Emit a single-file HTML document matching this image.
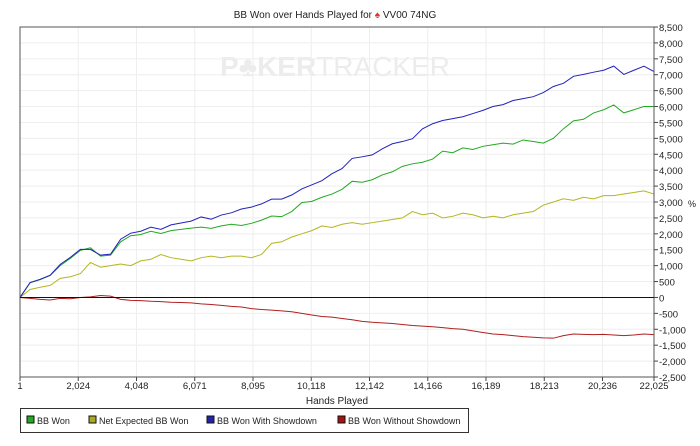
<!DOCTYPE html>
<html><head><meta charset="utf-8"><style>
body{margin:0;background:#fff;font-family:"Liberation Sans",Arial,sans-serif;}
svg text{font-family:"Liberation Sans",Arial,sans-serif;}
</style></head><body>
<svg id="c" width="700" height="441" viewBox="0 0 700 441" xmlns="http://www.w3.org/2000/svg">
<text x="335" y="18" font-size="10" text-anchor="middle" fill="#222">BB Won over Hands Played for <tspan fill="#d33">♠</tspan> VV00 74NG</text>
<text x="335" y="76" font-size="28" font-weight="bold" text-anchor="middle" fill="#ececec">P♣KER<tspan font-weight="normal">TRACKER</tspan></text>
<g id="grid"></g>
<g id="series"></g>
<g id="axes"></g>
<text x="337" y="404" font-size="10" text-anchor="middle" fill="#222">Hands Played</text>
<text x="688" y="207" font-size="9" fill="#222">%</text>
<g>
<rect x="20.5" y="408.5" width="448" height="24" fill="#fff" stroke="#333"/>
<g><rect x="27" y="416" width="7" height="7" fill="#2a2" stroke="#111"/><text x="37" y="424" font-size="9" fill="#222">BB Won</text></g>
<g><rect x="89" y="416" width="7" height="7" fill="#aa2" stroke="#111"/><text x="99" y="424" font-size="9" fill="#222">Net Expected BB Won</text></g>
<g><rect x="207" y="416" width="7" height="7" fill="#22a" stroke="#111"/><text x="217" y="424" font-size="9" fill="#222">BB Won With Showdown</text></g>
<g><rect x="338" y="416" width="7" height="7" fill="#a11" stroke="#111"/><text x="348" y="424" font-size="9" fill="#222">BB Won Without Showdown</text></g>
</g>
</svg>
<script>
const xTickLabels=["1","2,024","4,048","6,071","8,095","10,118","12,142","14,166","16,189","18,213","20,236","22,025"];
const xTickValues=[1,2024,4048,6071,8095,10118,12142,14166,16189,18213,20236,22025];
const yTickValues=[8500,8000,7500,7000,6500,6000,5500,5000,4500,4000,3500,3000,2500,2000,1500,1000,500,0,-500,-1000,-1500,-2000,-2500];
const bbWon=[0,460,560,690,1000,1230,1480,1560,1300,1330,1750,1940,1980,2080,2010,2100,2140,2180,2210,2170,2250,2300,2260,2330,2430,2560,2540,2700,2980,3020,3150,3250,3400,3650,3620,3700,3850,3950,4120,4200,4250,4350,4600,4550,4700,4650,4750,4800,4850,4820,4950,4900,4850,5000,5300,5550,5600,5800,5900,6050,5800,5900,6000,6000];
const netExpected=[0,250,320,380,600,650,750,1100,950,1000,1050,1000,1150,1200,1350,1250,1200,1150,1250,1300,1250,1300,1300,1250,1350,1700,1750,1900,2000,2100,2250,2200,2300,2350,2300,2350,2400,2450,2500,2700,2600,2650,2500,2550,2650,2600,2500,2550,2500,2600,2650,2700,2900,3000,3100,3050,3150,3100,3200,3200,3250,3300,3350,3250];
const withShowdown=[0,470,570,700,1040,1260,1510,1510,1330,1360,1830,2020,2080,2210,2140,2280,2340,2400,2530,2460,2590,2660,2780,2840,2940,3090,3090,3220,3410,3540,3670,3890,4050,4370,4420,4480,4670,4830,4900,4990,5300,5460,5560,5620,5680,5780,5880,6000,6060,6190,6250,6310,6440,6630,6730,6950,7010,7080,7140,7270,7010,7140,7270,7100];
const withoutShowdown=[0,-30,-60,-80,-30,-40,0,20,60,40,-60,-90,-100,-120,-130,-150,-160,-170,-200,-220,-250,-280,-300,-350,-380,-400,-420,-450,-500,-550,-600,-620,-660,-700,-750,-780,-800,-820,-850,-880,-900,-920,-950,-980,-1000,-1050,-1100,-1150,-1170,-1200,-1230,-1250,-1270,-1280,-1200,-1150,-1160,-1170,-1160,-1180,-1200,-1180,-1150,-1170];
const hands=withShowdown.map((_,i)=>1+i*22024/(withShowdown.length-1));
const L=20,R=654,T=27,B=377,XMIN=1,XMAX=22025,YMIN=-2500,YMAX=8500;
const sx=v=>L+(v-XMIN)/(XMAX-XMIN)*(R-L);
const sy=v=>B-(v-YMIN)/(YMAX-YMIN)*(B-T);
const NS="http://www.w3.org/2000/svg";
function mk(tag,attrs,parent){const e=document.createElementNS(NS,tag);for(const k in attrs)e.setAttribute(k,attrs[k]);parent.appendChild(e);return e;}
const grid=document.getElementById('grid'),axes=document.getElementById('axes'),ser=document.getElementById('series');
yTickValues.forEach(v=>{const l=mk('line',{x1:L,x2:R,y1:sy(v),y2:sy(v),stroke:'#eeeeee'},grid);


const t=mk('line',{x1:R,x2:R+4,y1:sy(v),y2:sy(v),stroke:'#444'},axes);


const tx=mk('text',{x:R+5,y:sy(v)+4,'font-size':9.5,fill:'#222'},axes);tx.textContent=(v<0?'-':'')+Math.abs(v).toLocaleString('en-US');

});
xTickValues.forEach((v,i)=>{const l=mk('line',{x1:sx(v),x2:sx(v),y1:T,y2:B,stroke:'#eeeeee'},grid);


const t=mk('line',{x1:sx(v),x2:sx(v),y1:B,y2:B+4,stroke:'#444'},axes);


const tx=mk('text',{x:sx(v),y:B+12,'font-size':9.5,fill:'#222','text-anchor':'middle'},axes);tx.textContent=xTickLabels[i];

});
const frame=mk('path',{d:`M${L},${B}V${T}H${R}V${B}H${L}`,fill:'none',stroke:'#555'},axes);


const z=mk('line',{x1:L,x2:R,y1:sy(0),y2:sy(0),stroke:'#111'},axes);


[[withoutShowdown,'#b02020','line-without-showdown'],[netExpected,'#b5b520','line-net-expected'],[bbWon,'#22aa22','line-bb-won'],[withShowdown,'#2222bb','line-with-showdown']].forEach(([d,c,n])=>{
const p=mk('polyline',{points:d.map((v,i)=>sx(hands[i])+','+sy(v)).join(' '),fill:'none',stroke:c,'stroke-width':1},ser);

});
</script>
</body></html>
